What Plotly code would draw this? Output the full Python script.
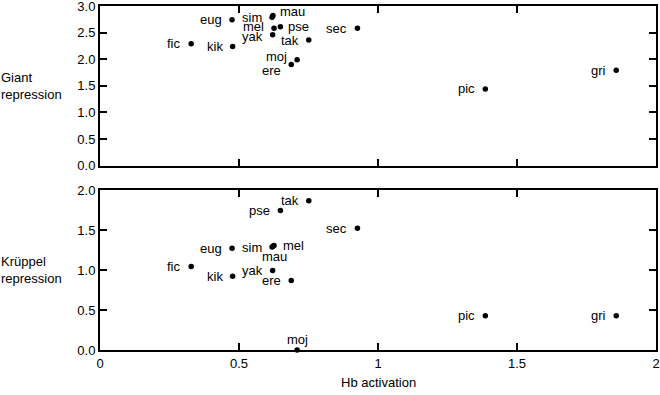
import plotly.graph_objects as go
from plotly.subplots import make_subplots

# ---- data ----
species = ["eug", "sim", "mau", "mel", "pse", "yak", "tak", "sec", "fic", "kik", "moj", "ere", "pic", "gri"]
hb_activation = [0.475, 0.619, 0.622, 0.626, 0.649, 0.621, 0.751, 0.926, 0.328, 0.477, 0.709, 0.688, 1.386, 1.857]
giant_repression = [2.74, 2.79, 2.82, 2.58, 2.61, 2.46, 2.36, 2.58, 2.29, 2.24, 1.99, 1.90, 1.44, 1.79]
kruppel_repression = [1.275, 1.29, 1.30, 1.31, 1.75, 0.996, 1.87, 1.525, 1.046, 0.925, 0.0, 0.87, 0.43, 0.43]

x_tickvals = [0, 0.5, 1, 1.5, 2]
x_ticktext = ["0", "0.5", "1", "1.5", "2"]
giant_ticks = [0, 0.5, 1.0, 1.5, 2.0, 2.5, 3.0]
kruppel_ticks = [0, 0.5, 1.0, 1.5, 2.0]

# ---- label placement styles (anchor, xshift px, yshift px) ----
default_pos = ("right", -8, 0)
giant_label_pos = {"mau": ("left", 5, 4), "pse": ("left", 6, 0),
                   "mel": ("right", -8, 2), "yak": ("right", -8, -2),
                   "moj": ("right", -8, 3), "ere": ("right", -8, -6)}
kruppel_label_pos = {"mel": ("left", 7, 0), "mau": ("center", 2, -10),
                     "moj": ("center", 0, 11)}

FONT = "Liberation Sans, Arial, sans-serif"

fig = make_subplots(rows=2, cols=1, vertical_spacing=0.0725)

for row, yvals in [(1, giant_repression), (2, kruppel_repression)]:
    fig.add_trace(go.Scatter(x=hb_activation, y=yvals, mode="markers",
                             marker=dict(color="black", size=5.5),
                             cliponaxis=False, showlegend=False,
                             hoverinfo="text", text=species),
                  row=row, col=1)

annotations = []
for xref, yref, yvals, posmap in [("x", "y", giant_repression, giant_label_pos),
                                  ("x2", "y2", kruppel_repression, kruppel_label_pos)]:
    for name, xv, yv in zip(species, hb_activation, yvals):
        anchor, dx, dy = posmap.get(name, default_pos)
        annotations.append(dict(x=xv, y=yv, xref=xref, yref=yref, text=name,
                                showarrow=False, xanchor=anchor, yanchor="middle",
                                xshift=dx, yshift=dy,
                                font=dict(family=FONT, size=13, color="black")))

# y titles (horizontal, left aligned)
annotations.append(dict(x=0, y=0.768, xref="paper", yref="paper", xanchor="left", yanchor="middle",
                        xshift=-101, text="Giant<br>repression", align="left", showarrow=False,
                        font=dict(family=FONT, size=13, color="black")))
annotations.append(dict(x=0, y=0.232, xref="paper", yref="paper", xanchor="left", yanchor="middle",
                        xshift=-101, text="Krüppel<br>repression", align="left", showarrow=False,
                        font=dict(family=FONT, size=13, color="black")))
# x title
annotations.append(dict(x=0.5, y=0, xref="paper", yref="paper", xanchor="center", yanchor="middle",
                        yshift=-32, text="Hb activation", showarrow=False,
                        font=dict(family=FONT, size=13, color="black")))

axis_common = dict(showline=True, linecolor="black", linewidth=2, mirror="ticks",
                   ticks="inside", ticklen=7, tickwidth=1.5, tickcolor="black",
                   showgrid=False, zeroline=False, automargin=False,
                   ticklabeloverflow="allow",
                   tickfont=dict(family=FONT, size=13, color="black"))

fig.update_xaxes(range=[0, 2], tickvals=x_tickvals, ticktext=x_ticktext, **axis_common)
fig.update_xaxes(showticklabels=False, row=1, col=1)
fig.update_yaxes(range=[0, 3], tickvals=giant_ticks, tickformat=".1f", **axis_common, row=1, col=1)
fig.update_yaxes(range=[0, 2], tickvals=kruppel_ticks, tickformat=".1f", **axis_common, row=2, col=1)

fig.update_layout(width=660, height=395,
                  margin=dict(l=100, r=4, t=6, b=45),
                  paper_bgcolor="white", plot_bgcolor="white",
                  annotations=annotations,
                  font=dict(family=FONT, size=13, color="black"))

fig.write_html("out.html", config={"displayModeBar": False},
               post_script="document.body.style.margin='0';document.body.style.overflow='hidden';")
